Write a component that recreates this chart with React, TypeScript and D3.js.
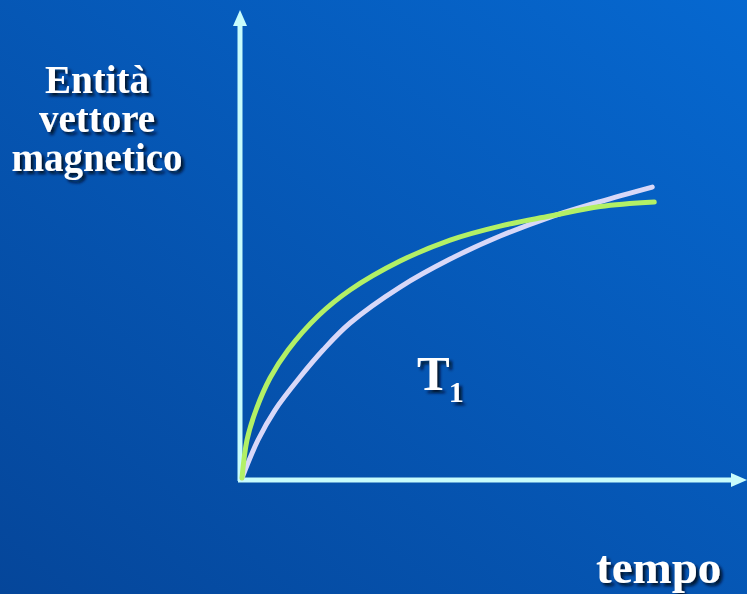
import React, { useEffect, useRef } from "react";
import * as d3 from "d3";

// Data (arbitrary units)
const timeGreen = [0, 0.121, 0.34, 0.68, 1.117, 1.845, 2.621, 3.835, 5.049, 6.262, 7.476, 8.689, 10.0];
const valueGreen = [0, 1.377, 2.464, 3.623, 4.638, 5.87, 6.812, 7.862, 8.623, 9.13, 9.493, 9.837, 10.0];
const timeLavender = [0, 0.388, 0.801, 1.408, 1.966, 2.621, 3.835, 5.049, 6.262, 7.476, 8.689, 9.951];
const valueLavender = [0, 1.377, 2.464, 3.659, 4.638, 5.616, 6.92, 7.935, 8.768, 9.457, 10.018, 10.543];
const yLabelLines = ["Entità", "vettore", "magnetico"];
const xLabel = "tempo";
const curveLabel = "T";
const curveLabelSub = "1";

const W = 747;
const H = 594;

export default function App() {
  const ref = useRef<SVGSVGElement | null>(null);

  useEffect(() => {
    const svg = d3.select(ref.current);
    svg.selectAll("*").remove();

    const defs = svg.append("defs");
    const grad = defs
      .append("linearGradient")
      .attr("id", "bg")
      .attr("x1", "0%")
      .attr("y1", "100%")
      .attr("x2", "100%")
      .attr("y2", "0%");
    grad.append("stop").attr("offset", "0%").attr("stop-color", "#05469a");
    grad.append("stop").attr("offset", "100%").attr("stop-color", "#0668d0");

    const shadow = defs.append("filter").attr("id", "shadow").attr("x", "-20%").attr("y", "-20%").attr("width", "140%").attr("height", "140%");
    shadow
      .append("feDropShadow")
      .attr("dx", 3)
      .attr("dy", 3)
      .attr("stdDeviation", 1.5)
      .attr("flood-color", "#000822")
      .attr("flood-opacity", 0.9);

    svg.append("rect").attr("width", W).attr("height", H).attr("fill", "url(#bg)");

    const x = d3.scaleLinear().domain([0, 12.2]).range([242, 745]);
    const y = d3.scaleLinear().domain([0, 16.96]).range([478, 10]);

    const axisColor = "#c8fcfc";
    const x1 = x.range()[1];
    const y1 = y.range()[1];

    // y axis
    svg.append("line").attr("x1", 240).attr("x2", 240).attr("y1", 481).attr("y2", y1 + 14)
      .attr("stroke", axisColor).attr("stroke-width", 5);
    svg.append("path")
      .attr("d", `M${240},${y1} L${233},${y1 + 16} L${247},${y1 + 16} Z`)
      .attr("fill", axisColor);
    // x axis
    svg.append("line").attr("x1", 238).attr("x2", x1 - 12).attr("y1", 480).attr("y2", 480)
      .attr("stroke", axisColor).attr("stroke-width", 5);
    svg.append("path")
      .attr("d", `M${x1 + 2},${480} L${x1 - 14},${473} L${x1 - 14},${487} Z`)
      .attr("fill", axisColor);

    const line = d3
      .line<[number, number]>()
      .x((d) => x(d[0]))
      .y((d) => y(d[1]))
      .curve(d3.curveCatmullRom.alpha(0.5));

    const lav = timeLavender.map((t, i) => [t, valueLavender[i]] as [number, number]);
    const grn = timeGreen.map((t, i) => [t, valueGreen[i]] as [number, number]);

    svg.append("path").attr("d", line(lav)).attr("fill", "none").attr("stroke", "#d8d8f8")
      .attr("stroke-width", 5).attr("stroke-linecap", "round");
    svg.append("path").attr("d", line(grn)).attr("fill", "none").attr("stroke", "#b2f066")
      .attr("stroke-width", 5).attr("stroke-linecap", "round");

    const font = "'Liberation Serif', 'Times New Roman', serif";

    const yl = svg.append("text").attr("font-family", font).attr("font-weight", "bold")
      .attr("font-size", 39).attr("fill", "white").attr("text-anchor", "middle").attr("filter", "url(#shadow)");
    yLabelLines.forEach((s, i) => {
      yl.append("tspan").attr("x", 97).attr("y", 93 + i * 39).text(s);
    });

    svg.append("text").attr("font-family", font).attr("font-weight", "bold").attr("font-size", 47)
      .attr("fill", "white").attr("x", 596).attr("y", 583).attr("filter", "url(#shadow)").text(xLabel);

    const t = svg.append("text").attr("font-family", font).attr("font-weight", "bold")
      .attr("fill", "white").attr("x", 417).attr("y", 390).attr("filter", "url(#shadow)");
    t.append("tspan").attr("font-size", 49).text(curveLabel);
    t.append("tspan").attr("font-size", 30).attr("dy", 12).attr("dx", -1).text(curveLabelSub);
  }, []);

  return <svg ref={ref} width={W} height={H} style={{ display: "block", position: "absolute", left: 0, top: 0 }} />;
}
